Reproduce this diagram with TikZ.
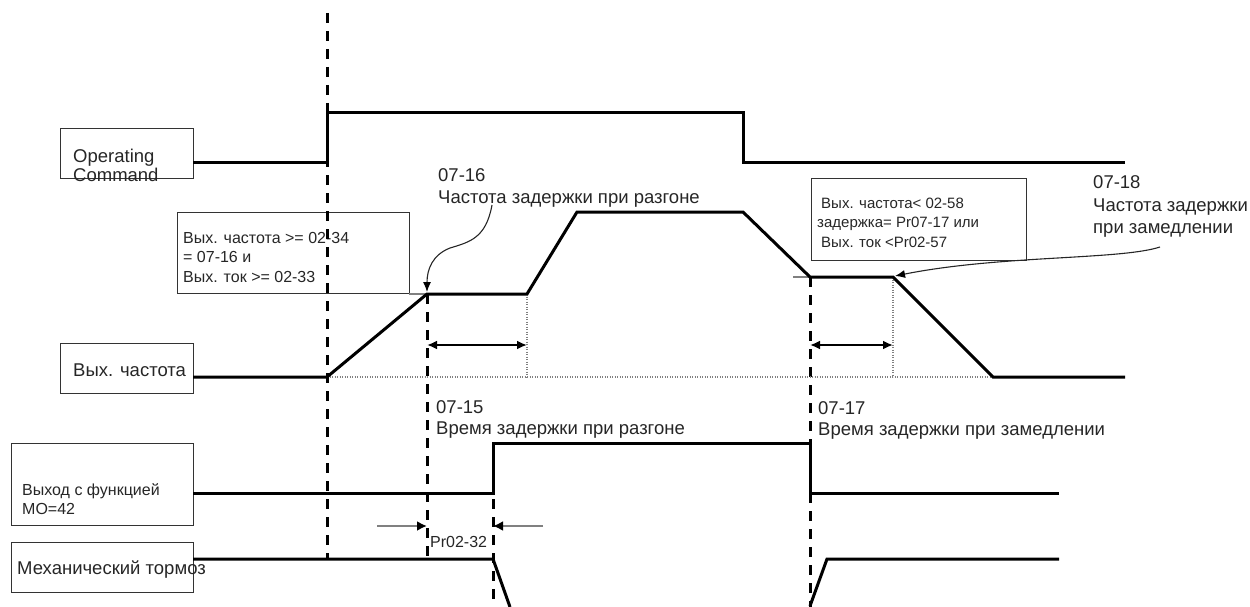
\documentclass[tikz,border=0pt]{standalone}
\usepackage{fontspec}
\setmainfont{Liberation Sans}
\usetikzlibrary{arrows.meta}
\begin{document}
\begin{tikzpicture}[x=1pt,y=-1pt,
  sig/.style={line width=3pt, line join=miter},
  vdash/.style={line width=3pt, dash pattern=on 10pt off 8pt},
  box/.style={draw=black!80, line width=1.3pt, inner sep=0pt, anchor=north west},
  lbl/.style={inner sep=0pt, anchor=base west, text=black!85},
  big/.style={lbl, font=\fontsize{18.5}{20}\selectfont},
  mid/.style={lbl, font=\fontsize{16}{19}\selectfont},
  sml/.style={lbl, font=\fontsize{15}{18}\selectfont},
  dotg/.style={black!50, line width=2pt, dash pattern=on 1.3pt off 1.2pt},
  dimarr/.style={line width=2.4pt, {Latex[length=10pt,width=9pt]}-{Latex[length=10pt,width=9pt]}},
  grayarr/.style={draw=black!50, line width=2.2pt, -{Latex[length=10pt,width=10pt,color=black]}},
  curv/.style={line width=1.1pt, black!85, -{Latex[length=10pt,width=8pt,color=black]}},
  tick/.style={black!50, line width=2.4pt}
]
\useasboundingbox (0,0) rectangle (1250,607);

% ---------- boxes ----------
\node[box, minimum width=133pt, minimum height=50pt] (opbox) at (60,128) {};
\node[big] (optxt1) at (73,162) {Operating};
\node[big] (optxt2) at (73,182) {Command};

\node[box, minimum width=232pt, minimum height=81pt] (condL) at (177,212) {};
\node[mid] (cl1) at (183,243) {Вых. частота >= 02-34};
\node[mid] (cl2) at (183,262) {= 07-16 и};
\node[mid] (cl3) at (183,282) {Вых. ток >= 02-33};

\node[box, minimum width=215pt, minimum height=82pt] (condR) at (811,178) {};
\node[sml] (cr1) at (821,208) {Вых. частота< 02-58};
\node[sml] (cr2) at (817,227) {задержка= Pr07-17 или};
\node[sml] (cr3) at (821,247) {Вых. ток <Pr02-57};

\node[box, minimum width=133pt, minimum height=50pt] (fbox) at (60,343) {};
\node[big] (ftxt) at (73,376) {Вых. частота};

\node[box, minimum width=182pt, minimum height=82pt] (mobox) at (11,443) {};
\node[mid] (mo1) at (22,495) {Выход с функцией};
\node[mid] (mo2) at (22,514) {MO=42};

\node[box, minimum width=182pt, minimum height=50pt] (brbox) at (11,542) {};
\node[big] (brtxt) at (17,574) {Механический тормоз};

% ---------- labels ----------
\node[big] (l16a) at (438,182) {07-16};
\node[big] (l16b) at (438,203) {Частота задержки при разгоне};
\node[big] (l18a) at (1093,188) {07-18};
\node[big] (l18b) at (1093,211) {Частота задержки};
\node[big] (l18c) at (1093,233) {при замедлении};
\node[big] (l15a) at (436,413) {07-15};
\node[big] (l15b) at (436,434) {Время задержки при разгоне};
\node[big] (l17a) at (818,414) {07-17};
\node[big] (l17b) at (818,435) {Время задержки при замедлении};
\node[mid] (lpr) at (430,547) {Pr02-32};

% ---------- dashed verticals ----------
\coordinate (d1t) at (327,13);  \coordinate (d1b) at (327,559);
\coordinate (d2t) at (427,294); \coordinate (d2b) at (427,559);
\coordinate (d3t) at (493,499); \coordinate (d3b) at (493,607);
\coordinate (d4t) at (810,277); \coordinate (d4b) at (810,607);
\draw[vdash] (d1t) -- (d1b);
\draw[vdash] (d2t) -- (d2b);
\draw[vdash] (d3t) -- (d3b);
\draw[vdash] (d4t) -- (d4b);

% ---------- dotted guides ----------
\coordinate (base0) at (327,377); \coordinate (base1) at (993,377);
\draw[dotg] (base0) -- (base1);
\draw[dotg] (527,294) -- (527,377);
\draw[dotg] (893,277) -- (893,377);
\draw[tick] (409,294) -- (427,294);
\draw[tick] (793,277) -- (810,277);

% ---------- waveforms ----------
\draw[sig] (193,162) -- (327,162) -- (327,113) -- (743,113) -- (743,162) -- (1125,162);
\draw[sig] (193,377) -- (327,377) -- (427,294) -- (527,294) -- (577,212) -- (743,212)
           -- (810,277) -- (893,277) -- (993,377) -- (1125,377);
\draw[sig] (193,493) -- (493,493) -- (493,443) -- (810,443) -- (810,493) -- (1059,493);
\draw[sig] (193,559) -- (493,559) -- (510,607);
\draw[sig] (810,606) -- (827,559) -- (1059,559);

% ---------- dimension arrows ----------
\draw[dimarr] (427,345) -- (527,345);
\draw[dimarr] (810,345) -- (893,345);
\coordinate (pa0) at (377,526); \coordinate (pa1) at (427,526);
\coordinate (pb0) at (543,526); \coordinate (pb1) at (493,526);
\draw[grayarr] (pa0) -- (pa1);
\draw[grayarr] (pb0) -- (pb1);

% ---------- curved pointers ----------
\coordinate (c16) at (492,205); \coordinate (p16) at (427,292);
\draw[curv] (c16) .. controls (486,238) and (470,242) .. (450,248)
            .. controls (432,255) and (427,270) .. (p16);
\coordinate (c18) at (1160,247); \coordinate (p18) at (895,276);
\draw[curv] (c18) .. controls (1120,260) and (1000,255) .. (p18);
\end{tikzpicture}
\end{document}
